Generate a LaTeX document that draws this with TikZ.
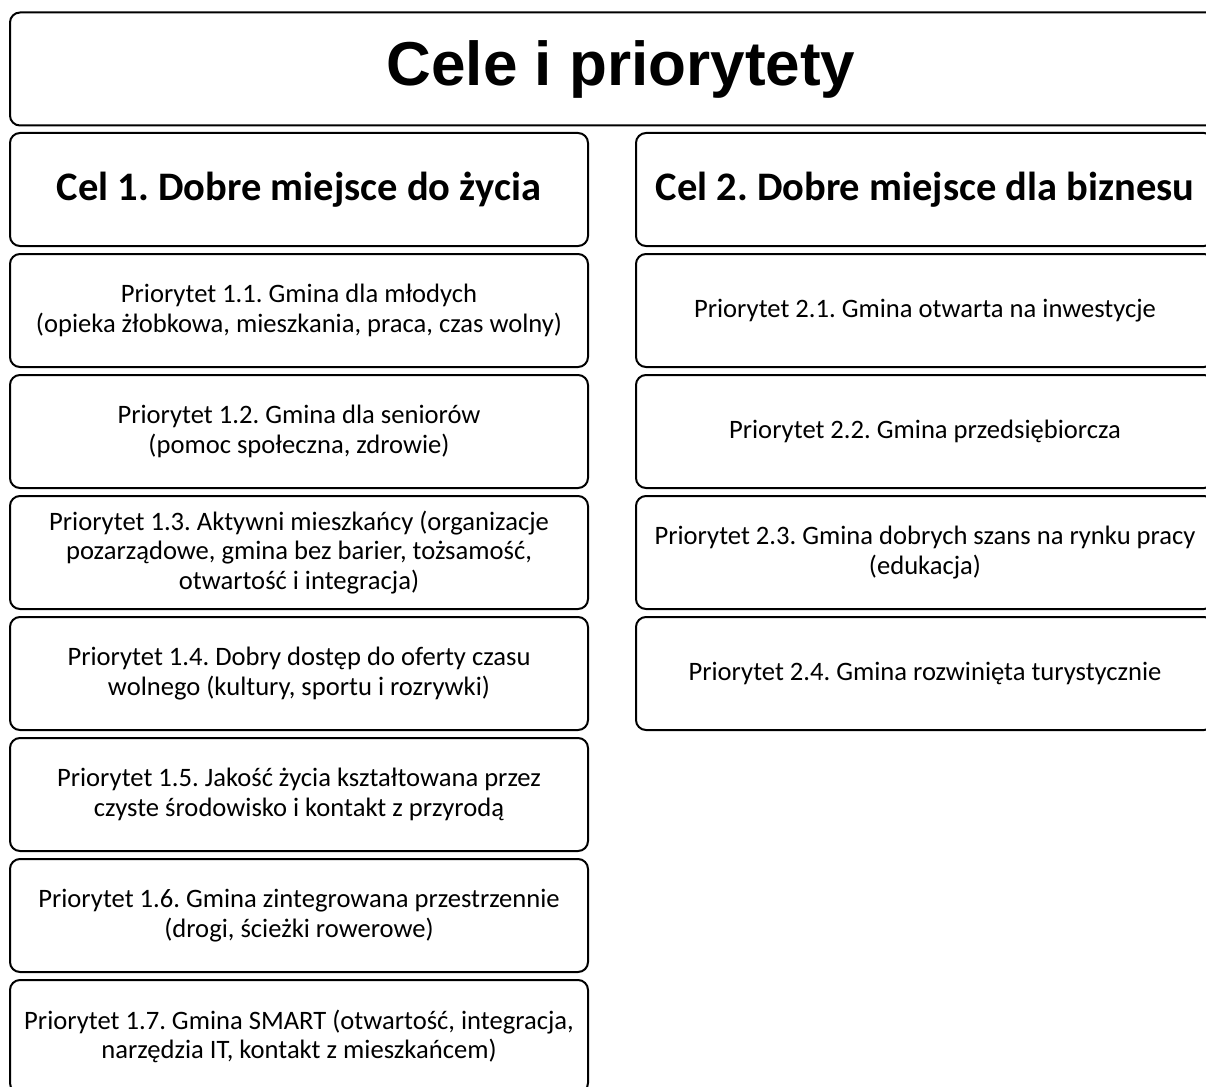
\documentclass[tikz,border=0pt]{standalone}
\usepackage{fontspec}
\setmainfont{Carlito}
\newfontfamily\titlefont{Liberation Sans}
\frenchspacing
\tikzset{
	pole/.style={draw=black, line width=2pt, rounded corners=10pt, inner sep=0pt,
		minimum width=578pt, minimum height=113pt, align=center},
	tytul/.style={pole, minimum width=1222pt, font=\titlefont\bfseries\fontsize{62}{70}\selectfont},
	cel/.style={pole, font=\bfseries\fontsize{40.5}{46}\selectfont},
	prio/.style={pole, font=\fontsize{26.6}{29.5}\selectfont}
}
\begin{document}
\begin{tikzpicture}[x=1pt, y=-1pt]

		\useasboundingbox (0, 0) rectangle (1206, 1086);

		% Tytul
		\node[tytul] (tytul) at (621, 69) {Cele i priorytety};

		% Cel 1
		\node[cel] (cel1) at (299, 189.5) {Cel 1. Dobre miejsce do życia};
		\node[prio] (p11) at (299, 310.5) {Priorytet 1.1. Gmina dla młodych\\(opieka żłobkowa, mieszkania, praca, czas wolny)};
		\node[prio] (p12) at (299, 431.5) {Priorytet 1.2. Gmina dla seniorów\\(pomoc społeczna, zdrowie)};
		\node[prio] (p13) at (299, 552.5) {Priorytet 1.3. Aktywni mieszkańcy (organizacje\\pozarządowe, gmina bez barier, tożsamość,\\otwartość i integracja)};
		\node[prio] (p14) at (299, 673.5) {Priorytet 1.4. Dobry dostęp do oferty czasu\\wolnego (kultury, sportu i rozrywki)};
		\node[prio] (p15) at (299, 794.5) {Priorytet 1.5. Jakość życia kształtowana przez\\czyste środowisko i kontakt z przyrodą};
		\node[prio] (p16) at (299, 915.5) {Priorytet 1.6. Gmina zintegrowana przestrzennie\\(drogi, ścieżki rowerowe)};
		\node[prio] (p17) at (299, 1036.5) {Priorytet 1.7. Gmina SMART (otwartość, integracja,\\narzędzia IT, kontakt z mieszkańcem)};

		% Cel 2
		\node[cel] (cel2) at (925, 189.5) {Cel 2. Dobre miejsce dla biznesu};
		\node[prio] (p21) at (925, 310.5) {Priorytet 2.1. Gmina otwarta na inwestycje};
		\node[prio] (p22) at (925, 431.5) {Priorytet 2.2. Gmina przedsiębiorcza};
		\node[prio] (p23) at (925, 552.5) {Priorytet 2.3. Gmina dobrych szans na rynku pracy\\(edukacja)};
		\node[prio] (p24) at (925, 673.5) {Priorytet 2.4. Gmina rozwinięta turystycznie};

\end{tikzpicture}
\end{document}
